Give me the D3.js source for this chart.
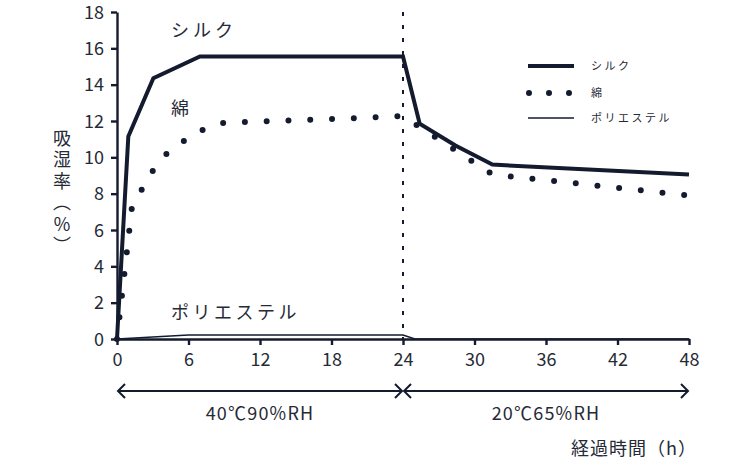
<!DOCTYPE html>
<html>
<head>
<meta charset="utf-8">
<script src="https://cdn.jsdelivr.net/npm/d3@7"></script>
<style>
  html, body { margin: 0; padding: 0; background: #fff; }
  svg { display: block; font-family: "Noto Sans CJK JP", "Noto Sans", sans-serif; }
</style>
</head>
<body>
<svg id="chart" width="750" height="465"></svg>
<script>
// ---- data ----
const silkTime   = [0, 0.95, 3.05, 6.96, 24, 25.4, 28.4, 31.5, 48];
const silkValue  = [0, 11.15, 14.35, 15.55, 15.55, 11.85, 10.65, 9.6, 9.05];
const cottonTime  = [0, 1.25, 2.1, 3, 4, 5, 6, 7, 8, 9, 12, 16, 20, 24, 31.5, 48];
const cottonValue = [0, 7.25, 8.25, 9.25, 10.1, 10.65, 11.05, 11.45, 11.75, 11.9, 11.97, 12.07, 12.16, 12.27, 9.06, 7.9];
const polyTime   = [0, 6, 24, 25, 48];
const polyValue  = [0, 0.22, 0.22, 0, 0];
const xTicks = [0, 6, 12, 18, 24, 30, 36, 42, 48];
const yTicks = [0, 2, 4, 6, 8, 10, 12, 14, 16, 18];
const seriesNames = ["シルク", "綿", "ポリエステル"];
const phaseLabels = ["40℃90%RH", "20℃65%RH"];
const phaseBounds = [[0, 24], [24, 48]];
const xTitle = "経過時間（h）";
const yTitle = "吸湿率（％）";

// ---- setup ----
const ink = "#151b2e";
const textCol = "#262a36";
const svg = d3.select("#chart");
const x = d3.scaleLinear().domain([0, 48]).range([117, 689]);
const y = d3.scaleLinear().domain([0, 18]).range([339, 12]);

const zip = (t, v) => t.map((d, i) => [d, v[i]]);
const line = d3.line().x(d => x(d[0])).y(d => y(d[1]));

// ---- vertical dotted separator ----
svg.append("line")
  .attr("x1", x(24)).attr("x2", x(24))
  .attr("y1", y(18)).attr("y2", y(0))
  .attr("stroke", ink).attr("stroke-width", 2)
  .attr("stroke-dasharray", "4,9");

// ---- series ----
svg.append("path").datum(zip(polyTime, polyValue))
  .attr("d", line).attr("fill", "none")
  .attr("stroke", ink).attr("stroke-width", 1.6);

svg.append("path").datum(zip(cottonTime, cottonValue))
  .attr("d", line).attr("fill", "none")
  .attr("stroke", ink).attr("stroke-width", 6)
  .attr("stroke-linecap", "round")
  .attr("stroke-dasharray", "0,21.8");

svg.append("path").datum(zip(silkTime, silkValue))
  .attr("d", line).attr("fill", "none")
  .attr("stroke", ink).attr("stroke-width", 4)
  .attr("stroke-linejoin", "miter");

// ---- axes ----
const yAxis = svg.append("g").attr("transform", `translate(${x(0)},0)`)
  .call(d3.axisLeft(y).tickValues(yTicks).tickSize(6).tickSizeOuter(0).tickPadding(7));
const xAxis = svg.append("g").attr("transform", `translate(0,${y(0)})`)
  .call(d3.axisBottom(x).tickValues(xTicks).tickSize(6).tickSizeOuter(0).tickPadding(6));
[yAxis, xAxis].forEach(g => {
  g.select(".domain").attr("stroke", ink).attr("stroke-width", 2.4);
  g.selectAll(".tick line").attr("stroke", ink).attr("stroke-width", 2.4);
  g.selectAll(".tick text").attr("fill", textCol)
    .style("font-size", "18px").style("font-family", '"Noto Sans CJK JP", sans-serif');
});
xAxis.selectAll(".tick text").attr("dy", "0.85em");
yAxis.selectAll(".tick text").attr("dy", "0.34em");

// ---- in-chart labels ----
const lab = (tx, ty, s, size, ls) => svg.append("text")
  .attr("x", tx).attr("y", ty).text(s)
  .attr("fill", textCol).style("font-size", size + "px")
  .style("letter-spacing", ls + "px");
lab(171, 37, seriesNames[0], 18, 4);
lab(171, 115, seriesNames[1], 18, 0);
lab(171, 319, seriesNames[2], 18, 3.5);

// ---- legend ----
const lgX1 = 528, lgX2 = 574, lgT = 591;
svg.append("line").attr("x1", lgX1).attr("x2", lgX2).attr("y1", 66).attr("y2", 66)
  .attr("stroke", ink).attr("stroke-width", 4);
svg.append("line").attr("x1", lgX1 + 1).attr("x2", lgX2).attr("y1", 93).attr("y2", 93)
  .attr("stroke", ink).attr("stroke-width", 6).attr("stroke-linecap", "round")
  .attr("stroke-dasharray", "0,20");
svg.append("line").attr("x1", lgX1).attr("x2", lgX2).attr("y1", 118).attr("y2", 118)
  .attr("stroke", ink).attr("stroke-width", 1.6);
[66, 93, 118].forEach((ly, i) => {
  svg.append("text").attr("x", lgT).attr("y", ly).attr("dy", "0.35em")
    .text(seriesNames[i]).attr("fill", textCol)
    .style("font-size", "11px").style("letter-spacing", "2.5px");
});

// ---- phase arrows ----
const ay = 391;
phaseBounds.forEach((b, i) => {
  const a = x(b[0]), c = x(b[1]);
  svg.append("line").attr("x1", a + 1).attr("x2", c - 1).attr("y1", ay).attr("y2", ay)
    .attr("stroke", ink).attr("stroke-width", 2);
  svg.append("path")
    .attr("d", `M${a + 8},${ay - 7} L${a + 1},${ay} L${a + 8},${ay + 7} M${c - 8},${ay - 7} L${c - 1},${ay} L${c - 8},${ay + 7}`)
    .attr("fill", "none").attr("stroke", ink).attr("stroke-width", 2);
  svg.append("text").attr("x", (a + c) / 2).attr("y", 414).attr("dy", "0.35em")
    .attr("text-anchor", "middle").text(phaseLabels[i])
    .attr("fill", textCol).style("font-size", "18px").style("letter-spacing", "1.2px");
});

// ---- axis titles ----
svg.append("text").attr("x", 697).attr("y", 449).attr("dy", "0.35em")
  .attr("text-anchor", "end").text(xTitle)
  .attr("fill", textCol).style("font-size", "18px").style("letter-spacing", "1px");
svg.append("text").attr("x", 62).attr("y", 129)
  .style("writing-mode", "vertical-rl")
  .text(yTitle).attr("fill", textCol).style("font-size", "18px")
  .style("letter-spacing", "3.5px");
</script>
</body>
</html>
